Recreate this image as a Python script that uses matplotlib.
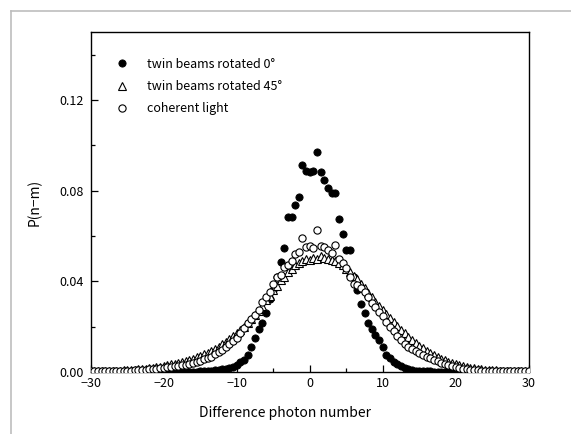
import numpy as np
import matplotlib.pyplot as plt
from matplotlib.lines import Line2D
from matplotlib.ticker import MultipleLocator

plt.rcParams['font.family'] = ['Noto Sans CJK JP', 'DejaVu Sans']

# difference photon number, sampled every 0.5 from -30 to 30
n_diff = np.arange(-30, 30.5, 0.5)

# twin beams rotated 0 deg (filled dots)
p_twin0 = [
    0.0, 0.0, 0.0, 0.0, 0.0, 0.0, 0.0, 0.0, 0.0, 0.0,            # -30 .. -25.5
    0.0, 0.0, 0.0, 0.0, 0.0, 0.0, 0.0, 0.0, 0.0, 0.0,            # -25 .. -20.5
    0.0, 0.0, 0.0, 0.0, 0.0, 0.0, 0.0, 0.0, 0.0, 0.0001,         # -20 .. -15.5
    0.0002, 0.0003, 0.0004, 0.0005, 0.0007, 0.0009, 0.0012, 0.0015, 0.0019, 0.0024,  # -15 .. -10.5
    0.0030, 0.0042, 0.0053, 0.0075, 0.0109, 0.0149, 0.0188, 0.0215, 0.0260, 0.0320,  # -10 .. -5.5
    0.0360, 0.0420, 0.0486, 0.0546, 0.0682, 0.0682, 0.0737, 0.0770, 0.0913, 0.0888,  # -5 .. -0.5
    0.0882, 0.0888, 0.0969, 0.0882, 0.0847, 0.0813, 0.0790, 0.0790, 0.0673, 0.0609,  # 0 .. 4.5
    0.0538, 0.0538, 0.0420, 0.0360, 0.0300, 0.0260, 0.0215, 0.0190, 0.0163, 0.0140,  # 5 .. 9.5
    0.0110, 0.0075, 0.0060, 0.0045, 0.0033, 0.0026, 0.0018, 0.0011, 0.0009, 0.0006,  # 10 .. 14.5
    0.0005, 0.0004, 0.0003, 0.0002, 0.0001, 0.0, 0.0, 0.0, 0.0, 0.0,                 # 15 .. 19.5
    0.0, 0.0, 0.0, 0.0, 0.0, 0.0, 0.0, 0.0, 0.0, 0.0,            # 20 .. 24.5
    0.0, 0.0, 0.0, 0.0, 0.0, 0.0, 0.0, 0.0, 0.0, 0.0,            # 25 .. 29.5
    0.0,                                                          # 30
]

# twin beams rotated 45 deg (open triangles)
p_twin45 = [
    0.0003, 0.0003, 0.0003, 0.0004, 0.0004, 0.0004, 0.0005, 0.0005, 0.0006, 0.0007,  # -30 .. -25.5
    0.0008, 0.0009, 0.0010, 0.0012, 0.0013, 0.0015, 0.0017, 0.0019, 0.0021, 0.0024,  # -25 .. -20.5
    0.0027, 0.0030, 0.0033, 0.0036, 0.0040, 0.0044, 0.0048, 0.0053, 0.0058, 0.0064,  # -20 .. -15.5
    0.0070, 0.0077, 0.0085, 0.0093, 0.0102, 0.0112, 0.0122, 0.0133, 0.0145, 0.0158,  # -15 .. -10.5
    0.0171, 0.0186, 0.0200, 0.0216, 0.0232, 0.0250, 0.0268, 0.0290, 0.0318, 0.0335,  # -10 .. -5.5
    0.0360, 0.0380, 0.0405, 0.0420, 0.0440, 0.0455, 0.0470, 0.0480, 0.0490, 0.0500,  # -5 .. -0.5
    0.0495, 0.0505, 0.0500, 0.0510, 0.0505, 0.0500, 0.0495, 0.0490, 0.0480, 0.0470,  # 0 .. 4.5
    0.0455, 0.0440, 0.0425, 0.0410, 0.0390, 0.0370, 0.0350, 0.0330, 0.0310, 0.0290,  # 5 .. 9.5
    0.0273, 0.0255, 0.0237, 0.0220, 0.0203, 0.0187, 0.0170, 0.0156, 0.0142, 0.0128,  # 10 .. 14.5
    0.0116, 0.0104, 0.0093, 0.0083, 0.0074, 0.0066, 0.0058, 0.0051, 0.0045, 0.0039,  # 15 .. 19.5
    0.0034, 0.0030, 0.0026, 0.0022, 0.0019, 0.0016, 0.0014, 0.0012, 0.0010, 0.0009,  # 20 .. 24.5
    0.0008, 0.0007, 0.0006, 0.0005, 0.0005, 0.0004, 0.0004, 0.0004, 0.0003, 0.0003,  # 25 .. 29.5
    0.0003,                                                                            # 30
]

# coherent light (open circles)
p_coherent = [
    0.0002, 0.0002, 0.0002, 0.0003, 0.0003, 0.0003, 0.0003, 0.0004, 0.0004, 0.0005,  # -30 .. -25.5
    0.0005, 0.0006, 0.0007, 0.0008, 0.0009, 0.0010, 0.0012, 0.0013, 0.0015, 0.0017,  # -25 .. -20.5
    0.0019, 0.0021, 0.0023, 0.0025, 0.0027, 0.0029, 0.0031, 0.0036, 0.0040, 0.0045,  # -20 .. -15.5
    0.0050, 0.0055, 0.0062, 0.0068, 0.0078, 0.0088, 0.0098, 0.0110, 0.0122, 0.0138,  # -15 .. -10.5
    0.0152, 0.0170, 0.0192, 0.0215, 0.0235, 0.0250, 0.0275, 0.0310, 0.0330, 0.0355,  # -10 .. -5.5
    0.0390, 0.0420, 0.0430, 0.0465, 0.0470, 0.0490, 0.0520, 0.0530, 0.0590, 0.0550,  # -5 .. -0.5
    0.0555, 0.0545, 0.0626, 0.0555, 0.0550, 0.0540, 0.0525, 0.0560, 0.0500, 0.0480,  # 0 .. 4.5
    0.0460, 0.0420, 0.0390, 0.0385, 0.0370, 0.0354, 0.0330, 0.0305, 0.0285, 0.0266,  # 5 .. 9.5
    0.0245, 0.0220, 0.0200, 0.0180, 0.0160, 0.0140, 0.0125, 0.0112, 0.0100, 0.0092,  # 10 .. 14.5
    0.0082, 0.0075, 0.0068, 0.0060, 0.0053, 0.0047, 0.0041, 0.0036, 0.0030, 0.0025,  # 15 .. 19.5
    0.0020, 0.0017, 0.0014, 0.0012, 0.0010, 0.0008, 0.0007, 0.0006, 0.0005, 0.0005,  # 20 .. 24.5
    0.0004, 0.0004, 0.0003, 0.0003, 0.0003, 0.0002, 0.0002, 0.0002, 0.0002, 0.0002,  # 25 .. 29.5
    0.0002,                                                                            # 30
]

labels = ["twin beams rotated 0°", "twin beams rotated 45°", "coherent light"]

assert len(p_twin0) == len(n_diff)
assert len(p_twin45) == len(n_diff)
assert len(p_coherent) == len(n_diff)

fig = plt.figure(figsize=(5.71, 4.34), dpi=100)
ax = fig.add_axes([0.159, 0.143, 0.767, 0.783])

ms = 5.2
ax.plot(n_diff, p_twin0, linestyle="none", marker="o", ms=ms,
        mfc="black", mec="black", mew=0.6, label=labels[0], zorder=3)
ax.plot(n_diff, p_twin45, linestyle="none", marker="^", ms=ms + 0.4,
        mfc="white", mec="black", mew=0.8, label=labels[1], zorder=4)
ax.plot(n_diff, p_coherent, linestyle="none", marker="o", ms=ms,
        mfc="white", mec="black", mew=0.8, label=labels[2], zorder=5)

ax.set_xlim(-30, 30)
ax.set_ylim(0, 0.15)
ax.xaxis.set_major_locator(MultipleLocator(10))
ax.xaxis.set_minor_locator(MultipleLocator(5))
ax.yaxis.set_major_locator(MultipleLocator(0.04))
ax.yaxis.set_minor_locator(MultipleLocator(0.02))
ax.yaxis.set_major_formatter(plt.FuncFormatter(lambda v, p: f"{v:.2f}"))
ax.tick_params(which="both", direction="in", top=False, right=False,
               labelsize=9, width=0.9)
ax.tick_params(axis="y", pad=5)
ax.tick_params(axis="x", pad=4)
ax.tick_params(which="major", length=5)
ax.tick_params(which="minor", length=3)
for s in ax.spines.values():
    s.set_linewidth(1.0)

ax.set_xlabel("Difference photon number", fontsize=10)
ax.xaxis.set_label_coords(0.443, -0.1)
ax.set_ylabel("P(n−m)", fontsize=10)
ax.yaxis.set_label_coords(-0.112, 0.5)

ax.legend(loc="upper left", bbox_to_anchor=(0.042, 0.94), frameon=False,
          fontsize=9, handlelength=1.2, handletextpad=1.4, labelspacing=0.75,
          borderaxespad=0.0)

# grey page border along top and left
fig.add_artist(Line2D([11 / 571, 11 / 571], [0, 1 - 11 / 434], color="#bdbdbd", lw=1.2))
fig.add_artist(Line2D([11 / 571, 1], [1 - 11 / 434, 1 - 11 / 434], color="#bdbdbd", lw=1.2))

fig.savefig("out.png", dpi=100)
